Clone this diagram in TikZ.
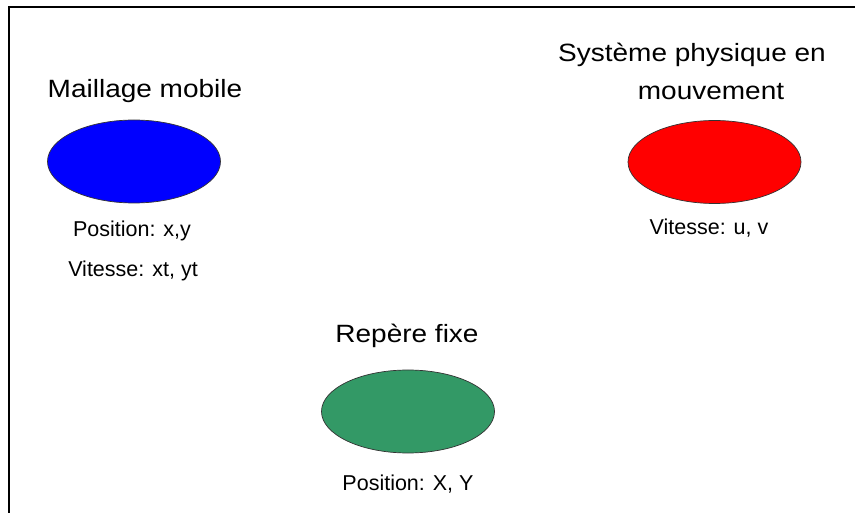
\documentclass[tikz,border=0pt]{standalone}
\usepackage{fontspec}
\setmainfont{Liberation Sans}
\newfontfamily\bigf[FakeStretch=1.12]{Liberation Sans}
\usetikzlibrary{shapes.geometric}
\definecolor{mblue}{RGB}{0,0,255}
\definecolor{mred}{RGB}{255,0,0}
\definecolor{mgreen}{RGB}{51,153,102}
\tikzset{
  blob/.style={ellipse, draw=black!80, line width=0.7pt, minimum width=173pt, minimum height=83pt, inner sep=0pt},
  title/.style={anchor=base, inner sep=0pt, font=\bigf\fontsize{25}{29}\selectfont},
  info/.style={anchor=base, inner sep=0pt, font=\fontsize{21.5}{26}\selectfont},
  frame/.style={line width=2pt, black}
}
\begin{document}
\begin{tikzpicture}[x=1pt,y=-1pt]
\useasboundingbox (0,0) rectangle (855,513);
\fill[white] (0,0) rectangle (855,513);
\coordinate (fb) at (9,514);
\coordinate (fc) at (9,7);
\coordinate (fr) at (856,7);
\draw[frame] (fb) -- (fc) -- (fr);

\node[title] (t1) at (145,98) {Maillage mobile};
\node[blob, fill=mblue] (e1) at (134,161.5) {};
\node[info] (p1) at (132,237) {Position: x,y};
\node[info] (v1) at (133,277) {Vitesse: xt, yt};

\node[title] (t2a) at (692,62) {Système physique en};
\node[title] (t2b) at (711,100) {mouvement};
\node[blob, fill=mred] (e2) at (714.5,162) {};
\node[info] (v2) at (709,235) {Vitesse: u, v};

\node[title] (t3) at (407,343) {Repère fixe};
\node[blob, fill=mgreen] (e3) at (408,411.5) {};
\node[info] (p3) at (408,490) {Position: X, Y};
\end{tikzpicture}
\end{document}
